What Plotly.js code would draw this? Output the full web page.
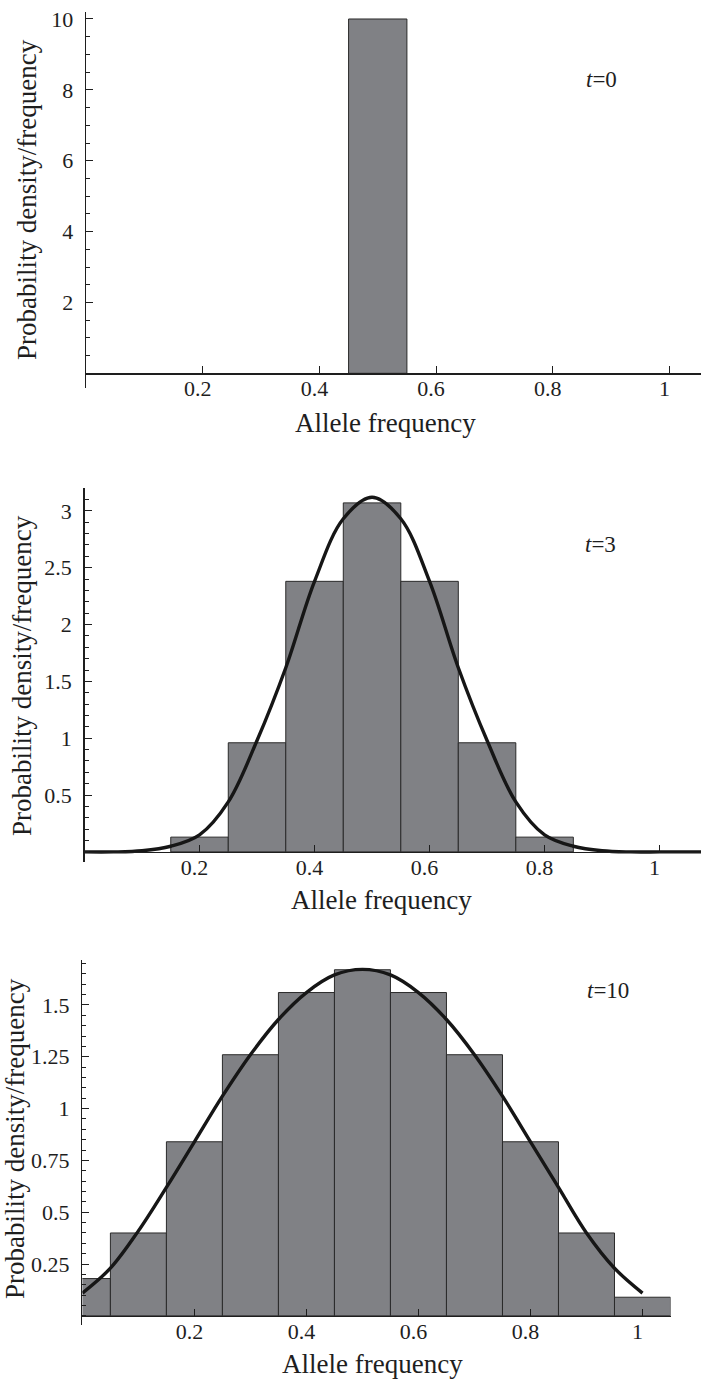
<!DOCTYPE html>
<html>
<head>
<meta charset="utf-8">
<script src="https://cdn.plot.ly/plotly-3.0.1.min.js"></script>
<style>html,body{margin:0;padding:0;background:#fff;}#chart{width:701px;height:1379px;}</style>
</head>
<body>
<div id="chart"></div>
<script>
// ---------- data ----------
const binCenters1 = [0.5];
const density1 = [10];

const binCenters2 = [0.2, 0.3, 0.4, 0.5, 0.6, 0.7, 0.8];
const density2 = [0.13, 0.96, 2.38, 3.07, 2.38, 0.96, 0.13];

const binCenters3 = [0.0, 0.1, 0.2, 0.3, 0.4, 0.5, 0.6, 0.7, 0.8, 0.9, 1.0];
const density3 = [0.18, 0.40, 0.84, 1.26, 1.56, 1.67, 1.56, 1.26, 0.84, 0.40, 0.09];

const curveX2 = [0, 0.05, 0.1, 0.15, 0.2, 0.25, 0.3, 0.35, 0.4, 0.45, 0.5, 0.55, 0.6, 0.65, 0.7, 0.75, 0.8, 0.85, 0.9, 0.95, 1.0, 1.05, 1.075];
const curveY2 = [0.00, 0.00, 0.01, 0.05, 0.15, 0.44, 0.98, 1.62, 2.38, 2.93, 3.12, 2.93, 2.38, 1.62, 0.98, 0.44, 0.15, 0.05, 0.01, 0.00, 0.00, 0.00, 0.00];

const curveX3 = [0, 0.05, 0.1, 0.15, 0.2, 0.25, 0.3, 0.35, 0.4, 0.45, 0.5, 0.55, 0.6, 0.65, 0.7, 0.75, 0.8, 0.85, 0.9, 0.95, 1.0];
const curveY3 = [0.11, 0.23, 0.41, 0.62, 0.84, 1.06, 1.26, 1.43, 1.56, 1.645, 1.672, 1.645, 1.56, 1.43, 1.26, 1.06, 0.84, 0.62, 0.40, 0.23, 0.11];

const xTickVals = [0.2, 0.4, 0.6, 0.8, 1];
const xTickText = ['0.2', '0.4', '0.6', '0.8', '1'];
const yTickVals1 = [2, 4, 6, 8, 10];
const yTickVals2 = [0.5, 1, 1.5, 2, 2.5, 3];
const yTickText2 = ['0.5', '1', '1.5', '2', '2.5', '3'];
const yTickVals3 = [0.25, 0.5, 0.75, 1, 1.25, 1.5];
const yTickText3 = ['0.25', '0.5', '0.75', '1', '1.25', '1.5'];
const timeLabels = ['0', '3', '10'];

const xTitle = 'Allele frequency';
const yTitle = 'Probability density/frequency';

// ---------- layout geometry (pixels) ----------
const W = 701, H = 1379;
const panels = [
  {left: 86,   right: 701,   top: 11.9,  bottom: 388.2, xr: [0, 1.054], yr: [-0.42, 10.2],  minor: 0.5,  tv: yTickVals1, tt: yTickVals1.map(String), lab: [0.883, 8.28],  xt: [385, 423],  yt: [27, 200]},
  {left: 84.5, right: 701,   top: 488.1, bottom: 861.7, xr: [0, 1.072], yr: [-0.086, 3.2],  minor: 0.1,  tv: yTickVals2, tt: yTickText2, lab: [0.898, 2.70],  xt: [381, 900],  yt: [22, 676]},
  {left: 82.4, right: 670.5, top: 960,   bottom: 1325,  xr: [0, 1.05],  yr: [-0.044, 1.717], minor: 0.05, tv: yTickVals3, tt: yTickText3, lab: [0.9386, 1.572], xt: [372, 1364], yt: [15, 1139]}
];

const FONT = 'Liberation Serif, Times New Roman, serif';
const INK = '#1e1e1e';
const BAR_FILL = '#808185';

const barsX = [binCenters1, binCenters2, binCenters3];
const barsY = [density1, density2, density3];
const curvesX = [null, curveX2, curveX3];
const curvesY = [null, curveY2, curveY3];

const traces = [];
const layout = {
  width: W, height: H,
  margin: {l: 0, r: 0, t: 0, b: 0},
  paper_bgcolor: '#fff', plot_bgcolor: '#fff',
  showlegend: false,
  bargap: 0,
  font: {family: FONT, color: INK, size: 22},
  annotations: []
};

panels.forEach((p, i) => {
  const n = i + 1;
  const xa = 'x' + (n === 1 ? '' : n), ya = 'y' + (n === 1 ? '' : n);
  const xk = 'xaxis' + (n === 1 ? '' : n), yk = 'yaxis' + (n === 1 ? '' : n);
  const yDom = [1 - p.bottom / H, 1 - p.top / H];
  const zeroFrac = yDom[0] + (0 - p.yr[0]) / (p.yr[1] - p.yr[0]) * (yDom[1] - yDom[0]);

  traces.push({
    type: 'bar', x: barsX[i], y: barsY[i], width: 0.1,
    xaxis: xa, yaxis: ya,
    marker: {color: BAR_FILL, line: {color: '#2a2a2a', width: 1}},
    hoverinfo: 'x+y'
  });
  if (curvesX[i]) {
    traces.push({
      type: 'scatter', mode: 'lines', x: curvesX[i], y: curvesY[i],
      xaxis: xa, yaxis: ya,
      line: {color: '#161616', width: 3.4, shape: 'spline', smoothing: 1},
      cliponaxis: true
    });
  }

  layout[xk] = {
    domain: [p.left / W, p.right / W],
    range: p.xr,
    anchor: 'free', position: zeroFrac,
    showline: true, linecolor: INK, linewidth: 1.4,
    showgrid: false, zeroline: false,
    ticks: 'inside', ticklen: 7, tickwidth: 1, tickcolor: INK,
    tickmode: 'array', tickvals: xTickVals, ticktext: xTickText,
    ticklabelstandoff: -5, ticklabelshift: -5,
    tickfont: {family: FONT, size: 22, color: INK},
    fixedrange: true
  };
  layout[yk] = {
    domain: yDom,
    range: p.yr,
    anchor: xa,
    showline: true, linecolor: INK, linewidth: 1.4,
    showgrid: false, zeroline: false,
    ticks: 'inside', ticklen: 7, tickwidth: 1, tickcolor: INK,
    tickmode: 'array', tickvals: p.tv, ticktext: p.tt,
    minor: {ticks: 'inside', ticklen: 4, tickwidth: 1, tickcolor: INK, dtick: p.minor, tick0: 0, showgrid: false},
    ticklabelstandoff: 7,
    tickfont: {family: FONT, size: 22, color: INK},
    fixedrange: true
  };
  // panel time label
  layout.annotations.push({
    xref: xa, yref: ya, x: p.lab[0], y: p.lab[1],
    text: '<i>t</i>=' + timeLabels[i], showarrow: false,
    font: {family: FONT, size: 23, color: INK}
  });
  // axis titles
  layout.annotations.push({
    xref: 'paper', yref: 'paper', x: p.xt[0] / W, y: 1 - p.xt[1] / H,
    xanchor: 'center', yanchor: 'middle',
    text: xTitle, showarrow: false,
    font: {family: FONT, size: 27, color: INK}
  });
  layout.annotations.push({
    xref: 'paper', yref: 'paper', x: p.yt[0] / W, y: 1 - p.yt[1] / H,
    xanchor: 'center', yanchor: 'middle', textangle: -90,
    text: yTitle, showarrow: false,
    font: {family: FONT, size: 27, color: INK}
  });
});

Plotly.newPlot('chart', traces, layout, {displayModeBar: false, staticPlot: true});
</script>
</body>
</html>
